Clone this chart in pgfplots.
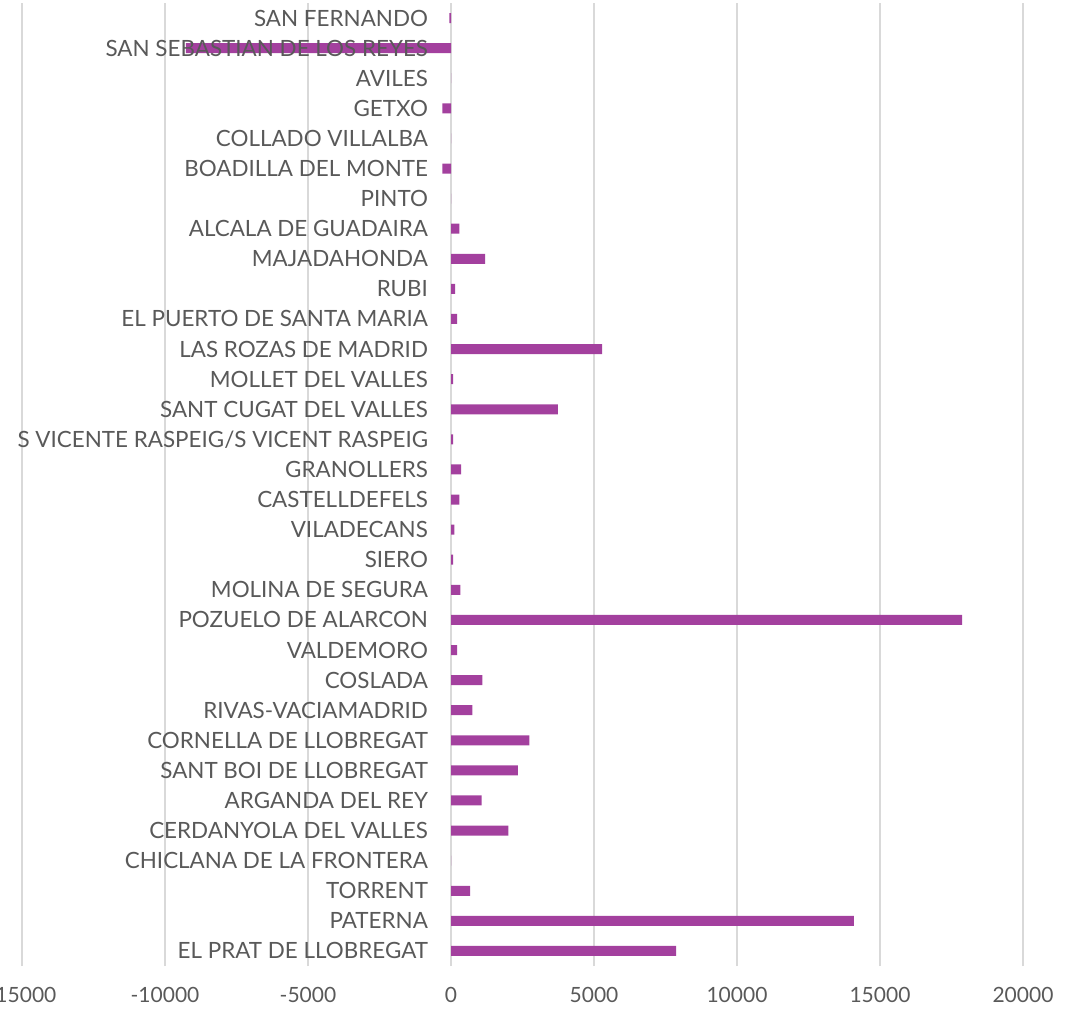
\documentclass[border=0pt]{standalone}
\usepackage{fontspec}
\setmainfont{Lato}
\usepackage{pgfplots}
\pgfplotsset{compat=1.18}
\usetikzlibrary{calc}
\definecolor{barc}{RGB}{163,64,158}
\definecolor{txt}{RGB}{89,89,89}
\definecolor{grd}{RGB}{217,217,217}
\pgfplotsset{
 layers/mylayers/.define layer set={axis background,axis grid,axis ticks,axis lines,pre main,main,axis tick labels,axis descriptions,axis foreground}{
  grid style={/pgfplots/on layer=axis grid},
  tick style={/pgfplots/on layer=axis ticks},
  axis line style={/pgfplots/on layer=axis lines},
  label style={/pgfplots/on layer=axis descriptions},
  legend style={/pgfplots/on layer=axis descriptions},
  title style={/pgfplots/on layer=axis descriptions},
  colorbar style={/pgfplots/on layer=axis descriptions},
  ticklabel style={/pgfplots/on layer=axis tick labels},
  axis background@ style={/pgfplots/on layer=axis background},
  3d box foreground style={/pgfplots/on layer=axis foreground},
 },
}
\begin{document}
\begin{tikzpicture}
\begin{axis}[
 set layers=mylayers,
 scale only axis, width=500.5pt, height=481.5pt,
 xbar, bar width=5pt,
 xmin=-15000, xmax=20000, ymin=-0.5, ymax=31.5,
 xtick={-15000,-10000,...,20000},
 xmajorgrids, grid style={grd, line width=0.75pt},
 axis line style={draw=none},
 major tick length=0pt,
 ytick={0,...,31},
 yticklabels={EL PRAT DE LLOBREGAT,PATERNA,TORRENT,CHICLANA DE LA FRONTERA,CERDANYOLA DEL VALLES,ARGANDA DEL REY,SANT BOI DE LLOBREGAT,CORNELLA DE LLOBREGAT,RIVAS-VACIAMADRID,COSLADA,VALDEMORO,POZUELO DE ALARCON,MOLINA DE SEGURA,SIERO,VILADECANS,CASTELLDEFELS,GRANOLLERS,S VICENTE RASPEIG/S VICENT RASPEIG,SANT CUGAT DEL VALLES,MOLLET DEL VALLES,LAS ROZAS DE MADRID,EL PUERTO DE SANTA MARIA,RUBI,MAJADAHONDA,ALCALA DE GUADAIRA,PINTO,BOADILLA DEL MONTE,COLLADO VILLALBA,GETXO,AVILES,SAN SEBASTIAN DE LOS REYES,SAN FERNANDO},
 yticklabel style={font=\fontsize{11.2}{13}\selectfont, text=txt, anchor=east, xshift=206.5pt},
 xticklabel style={font=\fontsize{10.5}{12}\selectfont, text=txt, yshift=-7pt},
 /pgf/number format/assume math mode=true,
 /pgf/number format/set thousands separator={},
 scaled x ticks=false,
]
\addplot[fill=barc, draw=none] coordinates {
(7870,0) (14090,1) (670,2) (0,3) (2010,4) (1070,5) (2340,6) (2740,7) (750,8) (1100,9)
(210,10) (17870,11) (330,12) (70,13) (120,14) (290,15) (350,16) (70,17) (3740,18) (70,19)
(5280,20) (210,21) (140,22) (1190,23) (290,24) (0,25) (-300,26) (0,27) (-300,28) (0,29)
(-9270,30) (-60,31)};
\coordinate (A) at (rel axis cs:0,0);
\coordinate (B) at (rel axis cs:1,1);
\end{axis}
\pgfresetboundingbox
\path[use as bounding box] ($(A)+(-11pt,-22pt)$) rectangle ($(B)+(28pt,1.5pt)$);
\end{tikzpicture}
\end{document}
